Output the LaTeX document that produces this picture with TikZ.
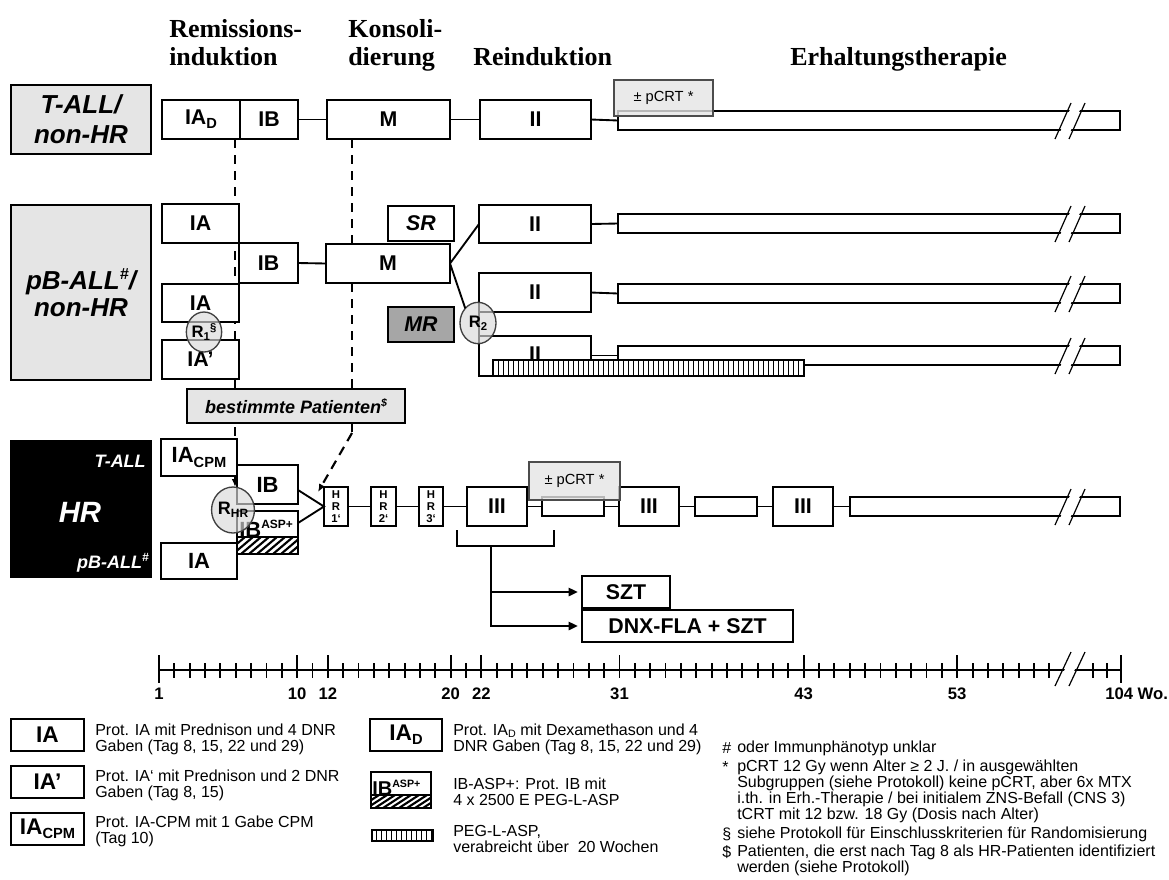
\documentclass[tikz,border=0pt]{standalone}
\usepackage{fontspec}
\setmainfont{Liberation Sans}
\newfontfamily\hdfont{Liberation Serif}
\usetikzlibrary{arrows.meta,calc,shapes.geometric}
\newcommand\fs[1]{\fontsize{#1}{#1}\selectfont}
\newcommand\legfont{\fontsize{12}{12.2}\selectfont\lineskiplimit=-5pt\relax}
\newcommand\dn[2]{\raisebox{-0.35ex}{\fs{#1}#2}}
\newcommand\upx[2]{\raisebox{0.75ex}{\fs{#1}#2}}
\newcommand\bx[7]{\node[#6, minimum width={(#4-#2)*0.75pt}, minimum height={(#5-#3)*0.75pt}] (#1) at ({(#2+#4)/2},{(#3+#5)/2}) {#7};}
\newcommand\brk[2]{%
  \fill[white] (1057,#2+9) -- (1073,#1-8) -- (1083,#1-8) -- (1067,#2+9) -- cycle;
  \draw[line width=0.9pt] (1055,#2+9) -- (1071,#1-8);
  \draw[line width=0.9pt] (1069,#2+9) -- (1085,#1-8);}
\newcommand\vhatch[3]{%
  \foreach \xx in {#1} {\draw[line width=0.6pt] (\xx,#2) -- (\xx,#3);}}
\newcommand\dhatch[4]{%
  \begin{scope}
  \clip (#1,#2) rectangle (#3,#4);
  \foreach \xx in {-20,-12,...,80} {\draw[line width=1.6pt] (#1+\xx,#4) -- (#1+\xx+20,#2);}
  \end{scope}
  \draw[line width=1.3pt] (#1,#2) rectangle (#3,#4);}
\begin{document}
\begin{tikzpicture}[x=0.75pt,y=-0.75pt,
  bx/.style={draw, line width=1.4pt, fill=white, inner sep=0pt, outer sep=0pt, font=\fs{16}\bfseries},
  bxi/.style={bx, font=\fs{16}\bfseries\itshape},
  grp/.style={bx, fill=black!10, align=center, font=\fontsize{19.5}{22.5}\selectfont\bfseries\itshape},
  pc/.style={draw=black!70, line width=1pt, fill=black!10, fill opacity=0.8, text opacity=1, inner sep=0pt, outer sep=0pt, font=\fs{11}},
  ln/.style={line width=1.4pt},
  dsh/.style={line width=1.6pt, dash pattern=on 7pt off 5pt},
  rc/.style={ellipse, draw=black!75, line width=1pt, fill=black!15, fill opacity=0.65, text opacity=1, inner sep=0pt, outer sep=0pt, font=\fs{12.5}\bfseries},
  hd/.style={anchor=base west, inner sep=0pt, font=\hdfont\bfseries\fs{19.5}},
  whi/.style={text=white, inner sep=0pt, font=\fs{13.5}\bfseries\itshape},
  tk/.style={line width=1.4pt},
  tl/.style={inner sep=0pt, font=\fs{12.5}\bfseries},
  leg/.style={anchor=west, align=left, inner sep=0pt, font=\legfont},
  rt/.style={anchor=west, inner sep=0pt, font=\fs{12}}
]
\useasboundingbox (0,0) rectangle (1169,879);
\fill[white] (0,0) rectangle (1169,879);

% headers
\node[hd] (h1a) at (169,37) {Remissions-};
\node[hd] (h1b) at (169,65) {induktion};
\node[hd] (h2a) at (348,37) {Konsoli-};
\node[hd] (h2b) at (348,65) {dierung};
\node[hd] (h3) at (473,65) {Reinduktion};
\node[hd] (h4) at (790,65) {Erhaltungstherapie};

% ---- T-ALL row
\bx{TALL}{11}{85}{151}{154}{grp}{T-ALL/\\non-HR}
\bx{IAD}{162}{100}{240}{139}{bx}{IA\dn{11}{D}}
\bx{TIB}{240}{100}{298}{139}{bx}{IB}
\bx{TM}{327}{100}{450}{139}{bx}{M}

% dashed lines (behind)
\coordinate (d1s) at ($(IAD.south east)+(-5,0)$);
\coordinate (d2s) at ($(TM.south west)+(25,0)$);
\node[ellipse, inner sep=0pt, outer sep=0pt, minimum width=31.5pt, minimum height=34.5pt] (RHRp) at (233,510) {};
\draw[dsh, -{Latex[length=6pt,width=5pt]}] (d1s) -- (d1s |- RHRp.north);

\bx{TII}{480}{100}{591}{139}{bx}{II}
\bx{TE}{618}{111}{1120}{130}{bx}{}
\draw[ln] (TIB.east) -- (TM.west);
\draw[ln] (TM.east) -- (TII.west);
\draw[ln] (TII.east) -- (TE.west);
\brk{111}{130}
\bx{TP}{614}{80}{713}{116}{pc}{± pCRT *}

% ---- pB-ALL row
\bx{BP}{187}{389}{405}{423}{bx, fill=black!10, font=\fs{13.5}\bfseries\itshape}{bestimmte Patienten\upx{8}{\$}}
\draw[dsh] (d2s) -- (d2s |- BP.north);
\bx{PB}{11}{205}{151}{380}{grp, font=\fontsize{19.5}{20}\selectfont\bfseries\itshape}{pB-ALL\upx{12}{\#}/\\non-HR}
\bx{PIA1}{162}{204}{239}{243}{bx}{IA}
\bx{PIB}{239}{243}{298}{283}{bx}{IB}
\bx{PM}{326}{244}{450}{283}{bx}{M}
\bx{SR}{388}{206}{454}{241}{bxi}{SR}
\bx{PIA2}{162}{284}{239}{322}{bx}{IA}
\bx{PIA3}{162}{340}{239}{379}{bx}{IA’}
\bx{MR}{388}{307}{454}{342}{bxi, fill=black!35}{MR}
\bx{II1}{479}{205}{591}{243}{bx}{II}
\bx{E1}{618}{214}{1120}{233}{bx}{}
\bx{II2}{479}{273}{591}{312}{bx}{II}
\bx{E2}{618}{284}{1120}{303}{bx}{}
\bx{II3}{479}{336}{591}{376}{bx}{}
\node[inner sep=0pt, font=\fs{16}\bfseries] (II3t) at (535,354) {II};
\bx{E3}{618}{346}{1120}{365}{bx}{}
\draw[ln] (PIB.east) -- (PM.west);
\draw[ln] (II1.east) -- (E1.west);
\draw[ln] (II2.east) -- (E2.west);
\draw[ln] (II3.east |- E3.west) -- (E3.west);
\draw[ln] (II2.south west) -- (II3.north west);
\brk{214}{233}
\brk{284}{303}
\brk{346}{365}
% PEG bar
\bx{PEG}{493}{360}{804}{376}{bx, line width=1.1pt}{}
\vhatch{498,503,...,800}{360}{376}
\draw[line width=1.1pt] (PEG.south west) rectangle (PEG.north east);

% dashed 2 continuation
\draw[dsh] (d2s |- BP.south) -- ++(0,10) coordinate (d2k);

% ---- HR section
\bx{HR}{11}{441}{151}{577}{bx, fill=black}{}
\node[whi, anchor=east] (hrT) at (146,461) {T-ALL};
\node[whi, font=\fs{22}\bfseries\itshape] (hrH) at (80,512) {HR};
\node[whi, anchor=east] (hrP) at (149,563) {pB-ALL\upx{9}{\#}};
\bx{HIAC}{161}{439}{237}{476}{bx, font=\fs{16.5}\bfseries}{IA\dn{11}{CPM}}
\bx{HIB}{237}{465}{298}{504}{bx, font=\fs{16.5}\bfseries}{IB}
\bx{HASP}{237}{511}{298}{554}{bx}{}
\dhatch{237}{537}{298}{554}
\node[anchor=base west, inner sep=0pt, font=\fs{16.5}\bfseries] (HASPt) at (239,537) {IB\upx{9}{ASP+}};
\bx{HIA}{161}{543}{237}{579}{bx, font=\fs{16.5}\bfseries}{IA}
\bx{HR1}{324}{487}{348}{526}{bx, align=center, font=\fontsize{8.5}{8.8}\selectfont\bfseries}{H\\R\\1‘}
\bx{HR2}{371}{487}{396}{526}{bx, align=center, font=\fontsize{8.5}{8.8}\selectfont\bfseries}{H\\R\\2‘}
\bx{HR3}{419}{487}{443}{526}{bx, align=center, font=\fontsize{8.5}{8.8}\selectfont\bfseries}{H\\R\\3‘}
\bx{III1}{467}{487}{527}{526}{bx}{III}
\bx{HS1}{542}{497}{604}{516}{bx}{}
\bx{III2}{619}{487}{679}{526}{bx}{III}
\bx{HS2}{695}{497}{757}{516}{bx}{}
\bx{III3}{773}{487}{833}{526}{bx}{III}
\bx{HE}{850}{497}{1120}{516}{bx}{}
\brk{497}{516}
\draw[ln] ($(HIB.north east)+(0,25)$) -- (HR1.west) -- ($(HASP.north east)+(0,12)$);
\draw[ln] (HR1.east) -- (HR2.west);
\draw[ln] (HR2.east) -- (HR3.west);
\draw[ln] (HR3.east) -- (III1.west);
\draw[ln] (III1.east) -- (HS1.west);
\draw[ln] (HS1.east) -- (III2.west);
\draw[ln] (III2.east) -- (HS2.west);
\draw[ln] (HS2.east) -- (III3.west);
\draw[ln] (III3.east) -- (HE.west);
\bx{HP}{529}{462}{620}{500}{pc}{± pCRT *}
\draw[dsh, -{Latex[length=6pt,width=5pt]}] (d2k) -- ($(HR1.north west)+(-6,5)$);

% SZT
\bx{SZT}{582}{576}{670}{608}{bx, font=\fs{16}\bfseries}{SZT}
\bx{DNX}{582}{610}{793}{642}{bx, font=\fs{16}\bfseries}{DNX-FLA + SZT}
\coordinate (bk1) at (457,530);
\coordinate (bk2) at (457,546);
\coordinate (bk3) at (554,546);
\coordinate (bk4) at (554,530);
\coordinate (tr0) at (491,546);
\draw[line width=1.5pt] (bk1) -- (bk2) -- (bk3) -- (bk4);
\draw[line width=2pt, -{Triangle[length=7pt,width=6pt]}] (tr0 |- SZT.west) -- ([xshift=-3pt]SZT.west);
\draw[line width=2pt, -{Triangle[length=7pt,width=6pt]}] (tr0) -- (tr0 |- DNX.west) -- ([xshift=-3pt]DNX.west);

% connectors M to II / R2, and R circles
\node[rc, minimum width=27pt, minimum height=31pt] (R2) at (478,323) {R\dn{8.5}{2}};
\draw[ln] (PM.east) -- (II1.west);
\draw[ln] (PM.east) -- (R2.north west);
\node[rc, minimum width=26.5pt, minimum height=30pt] (R1) at (204,332) {R\dn{8.5}{1}\upx{8.5}{§}};
\node[rc, font=\fs{13.5}\bfseries, minimum width=31.5pt, minimum height=34.5pt] (RHR) at (RHRp) {R\dn{9}{HR}};

% ---- timeline
\coordinate (ax0) at (159,670);
\coordinate (ax1) at (1121,670);
\draw[line width=1.6pt] (ax0) -- (ax1);
\foreach \w in {2,...,59} {\draw[tk] ({159+(\w-1)*15.35},663) -- ({159+(\w-1)*15.35},678);}
\foreach \w in {10,12,20,22,31,43,53} {\draw[tk] ({159+(\w-1)*15.35},655) -- ({159+(\w-1)*15.35},677);}
\draw[tk] (1093,663) -- (1093,678);
\draw[tk] (1107,663) -- (1107,678);
\draw[tk] (159,655) -- (159,683);
\draw[tk] (1121,655) -- (1121,683);
\brk{660}{677}
\node[tl] (w1) at (159,694) {1};
\node[tl] (w10) at ({159+9*15.35},694) {10};
\node[tl] (w12) at ({159+11*15.35},694) {12};
\node[tl] (w20) at ({159+19*15.35},694) {20};
\node[tl] (w22) at ({159+21*15.35},694) {22};
\node[tl] (w31) at ({159+30*15.35},694) {31};
\node[tl] (w43) at ({159+42*15.35},694) {43};
\node[tl] (w53) at ({159+52*15.35},694) {53};
\node[tl, anchor=west] (w104) at (1105,694) {104 Wo.};

% ---- legend
\bx{LIA}{11}{719}{84}{751}{bx, font=\fs{17}\bfseries}{IA}
\node[leg] (tIA) at (95,739) {Prot. IA mit Prednison und 4 DNR\\Gaben (Tag 8, 15, 22 und 29)};
\bx{LIA2}{11}{766}{84}{798}{bx, font=\fs{17}\bfseries}{IA’}
\node[leg] (tIA2) at (95,785) {Prot. IA‘ mit Prednison und 2 DNR\\Gaben (Tag 8, 15)};
\bx{LIAC}{11}{813}{84}{845}{bx, font=\fs{17}\bfseries}{IA\dn{11}{CPM}}
\node[leg] (tIAC) at (95,831) {Prot. IA-CPM mit 1 Gabe CPM\\(Tag 10)};
\bx{LIAD}{370}{719}{442}{751}{bx, font=\fs{17}\bfseries}{IA\dn{11}{D}}
\node[leg] (tIAD) at (453,739) {Prot. IA\raisebox{-0.25ex}{\fs{8}D} mit Dexamethason und 4\\DNR Gaben (Tag 8, 15, 22 und 29)};
\bx{LASP}{371}{772}{431}{808}{bx}{}
\dhatch{371}{795}{431}{808}
\node[anchor=base west, inner sep=0pt, font=\fs{15}\bfseries] (LASPt) at (372,795) {IB\upx{8}{ASP+}};
\node[leg] (tASP) at (453,792) {IB-ASP+: Prot. IB mit\\4 x 2500 E PEG-L-ASP};
\bx{LPEG}{372}{830}{433}{841}{bx, line width=1pt}{}
\vhatch{376,381,...,431}{830}{841}
\draw[line width=1pt] (LPEG.south west) rectangle (LPEG.north east);
\node[leg] (tPEG) at (453,839) {PEG-L-ASP,\\verabreicht über~ 20 Wochen};

\node[rt] (m1) at (722,748) {\#};
\node[rt] (r1) at (737,748) {oder Immunphänotyp unklar};
\node[rt] (m2) at (722,767) {*};
\node[rt] (r2) at (737,767) {pCRT 12 Gy wenn Alter ≥ 2 J. / in ausgewählten};
\node[rt] (r3) at (737,783) {Subgruppen (siehe Protokoll) keine pCRT, aber 6x MTX};
\node[rt] (r4) at (737,799) {i.th. in Erh.-Therapie / bei initialem ZNS-Befall (CNS 3)};
\node[rt] (r5) at (737,815) {tCRT mit 12 bzw. 18 Gy (Dosis nach Alter)};
\node[rt] (m6) at (722,834) {§};
\node[rt] (r6) at (737,834) {siehe Protokoll für Einschlusskriterien für Randomisierung};
\node[rt] (m7) at (722,852) {\$};
\node[rt] (r7) at (737,852) {Patienten, die erst nach Tag 8 als HR-Patienten identifiziert};
\node[rt] (r8) at (737,868) {werden (siehe Protokoll)};
\end{tikzpicture}
\end{document}
